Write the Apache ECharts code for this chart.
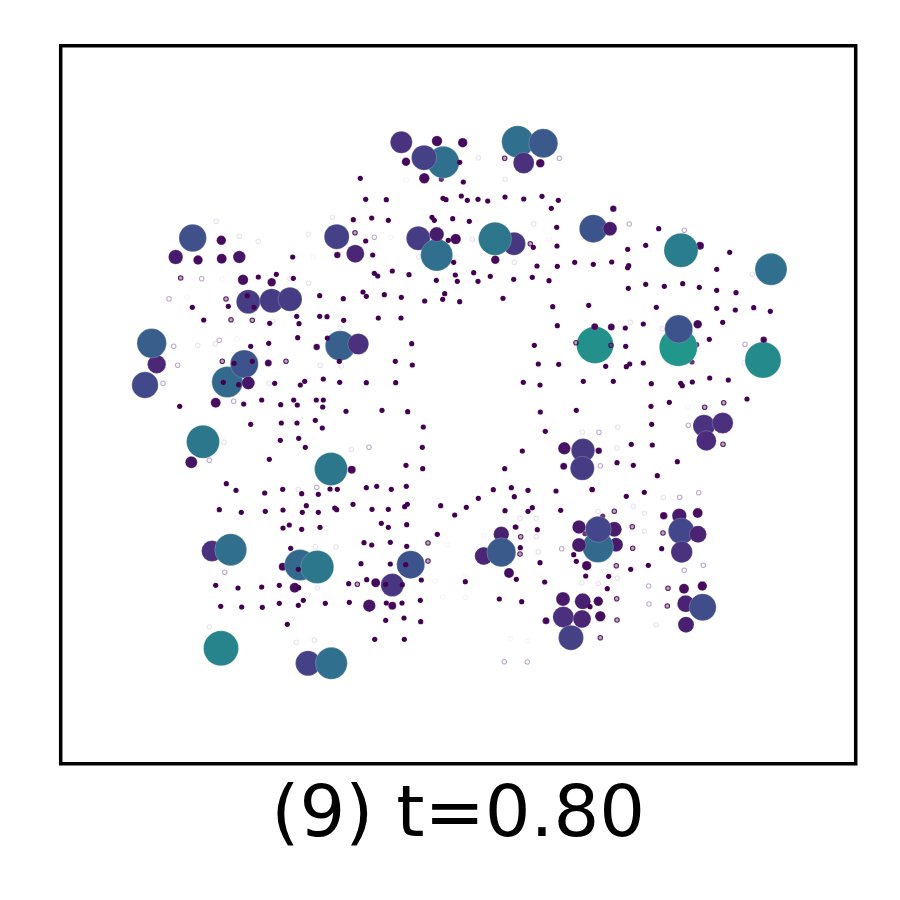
<!DOCTYPE html>
<html><head><meta charset="utf-8">
<style>html,body{margin:0;padding:0;background:#fff}#c{width:900px;height:900px}</style>
<script src="https://cdn.jsdelivr.net/npm/echarts@6/dist/echarts.min.js"></script>
</head><body><div id="c"></div>
<script>
const captionText = "(9) t=0.80";
const xRange = [60.7, 855.7];
const yRange = [45.7, 763.7];
// [x, y, weight]; weight sets both marker size and colour, listed in drawing order
const weightStops = ["#440154","#450559","#460f60","#481a6c","#4a2372","#4b2c7c","#483780","#43468a","#3a5a8b","#30708e","#27848c","#21968b"];
const hiddenDots = [[696.7,344.7],[692,362],[585,533.7],[602.7,516],[441.3,179.3],[516,527]];
const heavyPoints = [
[192.7,238,27.5],[175.7,257,14.5],[198,260,9.5],[221.3,240.3,9.5],[221.7,258.7,10],[239.3,257,12.5],[243,279.7,10.5],[271.7,282.3,8.5],[248.3,301.7,24],[271.7,300.7,24],[290,299.3,24],
[401.3,142.3,22],[437,141,10.5],[462.7,142.7,9.5],[443.3,162.3,32],[424,157.7,25],[406,161.7,8.5],[424.3,178.3,10.5],[517.7,141.7,32],[543.3,143.3,29],[523.7,163,21],[540.3,163.3,8.5],
[418.3,238.3,24],[436.7,255,32],[436.7,234.3,14.5],[455.7,239,10.5],[514,243.7,23],[495,238.7,33],[495.3,259.7,8.5],[336.7,236.7,25],[355.3,253.7,18],[337.3,255,6.5],[593.3,228.7,28],[610,228.7,14],[613.3,208.7,6.5],
[700,245.7,8],[681,250.3,34],[771,269.3,32],[595,345,37],[594.7,326.7,7],[611.3,327,7],[678.3,347.3,38],[678.7,329,28],[697.7,324.3,8.5],[763,360,36],[763.7,339.7,6.5],
[156.7,364.3,18.5],[151.7,343.3,29.5],[145,385,26.5],[227.3,382,31],[244.3,364,28],[248.3,383,13],[215.7,402.7,10],[203,441.7,33],[191.3,462.3,12],[268.3,363,7],[316.7,347,6.5],[351.7,469.7,8],[331,469,33],[340.3,345.7,30],[358.3,344,21],
[564.3,448.3,12.5],[598.7,450.7,6.5],[563.7,466.3,7],[583,450.3,23.5],[582.3,468.3,24],
[704,425.7,22],[722.7,423,21],[706.3,440.7,20],
[616,544.7,14],[614.3,529.3,15],[598,547,31],[598.3,529.3,26],[579,527,13.5],[579,545,14],[586.7,565.7,9.5],
[663.7,515.7,7.5],[679.3,515.7,14.5],[697.7,513,10],[681.3,531,26],[698,534.3,17],[681.7,552,21.5],
[684,588.7,10],[702.3,586,9.5],[685.7,603.7,17],[702.7,607.3,27],[686,624.7,16],
[563,599,14],[582.7,601.3,16],[563.3,617,21],[582,619,18],[571,637.7,25],[598.3,601.3,9.5],[600.3,616.3,10.5],[546,620.7,7],
[483.7,556,18],[501.3,534.3,15.5],[501.3,552.3,29],[509,573,10],
[212,551,21],[230.7,549.7,32],[282.7,566.7,8],[300,565,31],[317.3,567,33],[294.7,587.7,10],[410.7,564.7,28],[392.3,585,23],[375.7,582.7,9],[369.3,605.7,12.5],[392.3,605.7,8],[221,648.3,35],[308,663.3,25],[331.3,663.3,32]
];
const smallDots = [
[292.7,257],[258.3,277],[276.3,274.3],[293.3,278.3],[319.7,295.7],[247.3,295.7],[254,307.3],[192.3,307.3],[228.3,306.3],[203.7,320],[269.7,323.3],[296.7,316.3],[299,323.7],[319.7,316.3],[327,316.7],
[459.7,162.3],[463.3,182],[360.3,178.3],[365.7,199.3],[386.3,199.7],[443,198.3],[446,199.7],[461.3,196],[467.3,200.3],[478,199.3],[487.7,201],[505,197],[523.7,199],[542,196.3],[558.3,200.3],[551.3,208.3],[353.3,219.7],[371.7,218],[388.3,220.3],[432,217.3],[434.3,220.3],[452.7,218.7],[469.3,221.3],[556.7,227.3],[557,246],[533.3,247.3],[365.7,241],[372.7,255],[448.3,240.3],[453.7,262.3],[374.3,273.3],[377.7,276],[392.3,271],[409,274.7],[436.3,280.3],[455.3,275],[457.3,281.3],[473.7,272.7],[478,281.3],[490.3,276.3],[513.7,279.3],[532.3,277.3],[549,280.7],[537,266],[557.3,266.3],[574.7,262.3],[593.3,264.3],[343.3,298.7],[363,292],[366.3,296.3],[384.3,294.7],[401.3,297.3],[424.7,301],[442.7,299.3],[444.7,293.7],[459.7,301.7],[503,298.3],[552.7,306.7],[588.7,305.3],[343.7,320.3],[378.3,318],[401,318],[557.3,325.7],
[658.7,228.7],[627.7,249.3],[645.7,245.3],[729.7,252.3],[611.7,262],[627.7,267.7],[628.7,265.7],[716.7,269.3],[628.3,288.3],[645.7,284.3],[664.3,286.3],[682.7,283.7],[699.3,287.3],[716.7,290.3],[736,292.7],[656.3,307.3],[716.7,308.3],[735.3,310],[753.7,307.7],[770.3,311.3],[722.7,322.3],[625.3,328],[643.3,324],[709.3,339.3],[625.7,346.3],[605.7,366.3],[626.3,366.7],[629.7,364],[643.3,363],[613.3,381.3],[651.3,383.7],[680.7,383.3],[682.3,385.7],[692.3,382],[709.7,378],[728.3,380],[651,406.3],[669.3,402.3],[747,399],
[297.7,337.7],[268.7,343.3],[250.7,346.3],[327.3,338],[339.3,361.3],[234,363.3],[252.3,361.3],[223.3,382.3],[238.7,384.7],[274.7,383.3],[300.3,385],[304.7,381.3],[323.3,379],[339.7,382.3],[243.7,404],[261.7,400],[280.7,404.7],[293.7,400],[297.3,405],[316.3,400],[323.3,400],[322.7,407],[346,411.3],[179.7,406.3],[250.7,424.3],[281.3,423],[297,423],[315.3,420.3],[322.3,428],[280.3,440.3],[298.7,438.3],[305.3,447.3],[269.3,459.3],[226.3,483.7],[236,490.3],[264.7,493],[282.7,489.3],[301.7,493.7],[318.3,494.3],[330,489],[337.3,489.3],
[411.7,343.7],[395.3,361.3],[412.3,365],[366.3,382.7],[395.7,382.7],[382,410.3],[407.7,411.7],[423.3,427],[422.3,447.3],[422.7,468.7],[406,465.3],[406.3,486.3],[366.3,487.7],[376.7,486.3],[391.3,489.3],[353,504.3],[372,509.3],[388.3,509.3],[404.7,506.7],[407.3,504.3],[440.7,505.7],[454.7,515],[466.3,507.3],[478.3,498.3],[493.3,489.7],[511.3,487.7],[514.3,496.7],[528,490.3],[556,491],[504.7,468.7],[522.3,451],[545.3,431.3],[540.3,412],[576.3,410.3],[523.3,382.3],[540,385],[583.3,381.3],[538.3,364],[558.7,364.3],[534.3,345.3],[505,510.7],[528,511.3],[532.3,507.7],[560.7,510.3],
[651.7,424.3],[631.3,444.3],[652.3,445],[677.3,461.7],[617,462.7],[633.3,465.3],[657.3,475.7],[592.3,489.7],[626.3,496.3],[644.3,492.3],[661.7,548.7],[573.7,554.7],[576.3,561.3],[585.7,576],[608.7,576.3],[630.7,569.3],[648.3,565.3],[607.3,588.7],[590,606.7],
[219.3,509.7],[241.3,512.3],[265.3,511.3],[283,510],[302.3,512.3],[318.3,512.3],[306.3,505.7],[334.7,508],[336.7,509.7],[283,528],[289.3,525],[301.7,529.3],[320,527.3],[381.3,523.3],[388.3,527.3],[406.7,524.7],[437.3,534.3],[364,542.7],[371.7,545],[390.3,542.3],[406.7,546.3],[290.7,548.3],[361,563.7],[390.3,564],[405.7,564.7],[298.3,569.3],[215.7,585.3],[238,588],[261.7,587],[279.3,585.3],[298.7,587.7],[348.7,583.7],[366.7,579.7],[385.7,584.3],[402.3,584.7],[421.3,580],[220.7,606.3],[241.7,607],[262.3,607.3],[279.3,603.3],[298.3,605.3],[303.3,600.3],[325.3,603.3],[349.3,602.3],[386.3,603],[402,603],[420.3,600.3],[287.3,624.3],[385.7,620.3],[404,618],[420.7,621.7],[374.7,639.3],[404.3,639.3],
[592,489.3],[515.3,527],[537.3,529.7],[520.3,547.7],[540,562.7],[516.3,579.3],[465.3,581.7],[544.7,582],[499.3,599],[521.7,601.7]
];
const strongRings = [[180.7,278],[226,299],[231,319.7],[252.3,320.3],[504.7,158.3],[355,232.7],[530.3,243.7],[611,345.3],[704.7,407.3],[723.7,402.7],[222.3,361.3],[286,361.3],[576,342.7],[723,444.3],[614.3,511.3],[632.3,526.7],[663,533],[632.7,548.3],[668,588.3],[667.3,606],[616.7,598.7],[617,620],[600.3,637.7],[428,543],[428,561],[357.3,584.3],[520.7,536.7],[520,554],[616.3,565.7]];
const midRings = [[169,298.7],[201.7,278.7],[559.3,158.3],[374.3,237.3],[629.3,224],[684.3,230.3],[745,344.3],[173.7,346.3],[177.7,365.3],[163,383.3],[219.3,340.3],[233.7,401.3],[209.3,460.3],[369,447.3],[688.3,425.3],[698.7,492.7],[679.7,497.3],[703.3,565.3],[684.3,570.3],[648.7,586],[649,604],[599,432.3],[600.3,465.7],[224.7,572.3],[316.7,487.3],[561.7,548.7],[504.3,661.7],[527.3,662]];
const faintRings = [[239.3,236.3],[258.3,241.3],[216.3,221.3],[308.3,234.3],[290,278.7],[308.7,283.3],[272.7,321],[478.3,157.7],[505,179.3],[472.3,239.3],[332.3,217.3],[419,256.7],[533.7,223.7],[514.3,262.3],[340.3,327.3],[752.3,274.3],[630.3,322.3],[662.3,328.7],[744.3,362.7],[197.7,345.3],[215.3,343.7],[320.3,365.3],[341.3,365.7],[269,383.3],[224,442.3],[351.3,449.3],[298.3,489.3],[582.3,432.3],[617.7,427.3],[617,448],[633.3,506.3],[644.3,513.3],[598,511.3],[644.3,531.3],[617.3,578.3],[598.3,583.3],[582,583],[663.3,497.3],[656.3,624.7],[315.3,546.7],[336,547],[317.3,588],[209.3,627],[296.3,642.3],[314.3,640.3],[536.3,518.3],[520,518.3],[536.3,536.7],[538.3,551.7]];
const paleRings = [[222.3,279],[187,297],[313,256.7],[406.3,180],[475.3,219],[549.3,239.3],[456,257.3],[390.7,237.3],[688,406.7],[237.3,338.7],[331,643],[447.3,545.3],[435,581],[442.7,597],[483.7,535.7],[465,576.7],[527.3,641.3],[510.7,638.7],[465.7,597.3]];

function ringSeries(name, data, fill, stroke) {
  return {name, type:'scatter', data, symbol:'circle', symbolSize:4.5, silent:true,
    itemStyle:{color:fill, borderColor:stroke, borderWidth:1.1, opacity:1}};
}
const chart = echarts.init(document.getElementById('c'), null, {renderer:'canvas'});
chart.setOption({
  animation:false,
  backgroundColor:'#fff',
  grid:{left:xRange[0], top:yRange[0], width:xRange[1]-xRange[0], height:yRange[1]-yRange[0], show:true,
    borderColor:'#000', borderWidth:3.5, backgroundColor:'transparent'},
  xAxis:{type:'value', min:xRange[0], max:xRange[1], axisLine:{show:false}, axisTick:{show:false}, axisLabel:{show:false}, splitLine:{show:false},
    name:captionText, nameLocation:'middle', nameGap:18, nameTextStyle:{fontFamily:'DejaVu Sans', fontSize:72, color:'#000'}},
  yAxis:{type:'value', inverse:true, min:yRange[0], max:yRange[1], axisLine:{show:false}, axisTick:{show:false}, axisLabel:{show:false}, splitLine:{show:false}},
  visualMap:{show:false, type:'continuous', seriesIndex:1, dimension:2, min:5, max:38, inRange:{color:weightStops}},
  series:[
    {name:'hidden', type:'scatter', data:hiddenDots, symbolSize:5.2, silent:true, itemStyle:{color:'#440154'}},
    {name:'heavy', type:'scatter', data:heavyPoints, symbolSize:v=>v[2], silent:true, itemStyle:{borderColor:'rgba(255,255,255,0.2)', borderWidth:1, opacity:1}},
    {name:'dots', type:'scatter', data:smallDots, symbolSize:5.2, silent:true, itemStyle:{color:'#440154', opacity:1}},
    ringSeries('strong', strongRings, 'rgba(68,1,84,0.35)', 'rgba(68,1,84,0.85)'),
    ringSeries('mid', midRings, 'rgba(255,255,255,0)', 'rgba(90,40,120,0.38)'),
    ringSeries('faint', faintRings, 'rgba(255,255,255,0)', 'rgba(90,40,120,0.13)'),
    ringSeries('pale', paleRings, 'rgba(255,255,255,0)', 'rgba(90,40,120,0.05)')
  ]
});
</script></body></html>
